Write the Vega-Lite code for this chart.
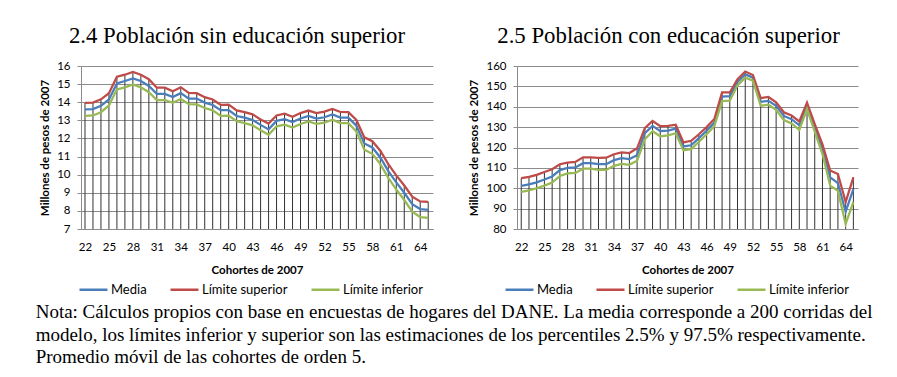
{
  "$schema": "https://vega.github.io/schema/vega-lite/v6.json",
  "padding": {"left": 35, "top": 25, "right": 5, "bottom": 5},
  "background": "white",
  "datasets": {
    "sin": [
      {"cohorte": 22, "Media": 13.61, "Límite superior": 13.96, "Límite inferior": 13.24},
      {"cohorte": 23, "Media": 13.62, "Límite superior": 13.98, "Límite inferior": 13.27},
      {"cohorte": 24, "Media": 13.80, "Límite superior": 14.16, "Límite inferior": 13.45},
      {"cohorte": 25, "Media": 14.15, "Límite superior": 14.50, "Límite inferior": 13.82},
      {"cohorte": 26, "Media": 15.04, "Límite superior": 15.41, "Límite inferior": 14.71},
      {"cohorte": 27, "Media": 15.17, "Límite superior": 15.52, "Límite inferior": 14.82},
      {"cohorte": 28, "Media": 15.32, "Límite superior": 15.67, "Límite inferior": 14.98},
      {"cohorte": 29, "Media": 15.17, "Límite superior": 15.52, "Límite inferior": 14.82},
      {"cohorte": 30, "Media": 14.90, "Límite superior": 15.27, "Límite inferior": 14.55},
      {"cohorte": 31, "Media": 14.46, "Límite superior": 14.80, "Límite inferior": 14.12},
      {"cohorte": 32, "Media": 14.46, "Límite superior": 14.80, "Límite inferior": 14.12},
      {"cohorte": 33, "Media": 14.29, "Límite superior": 14.60, "Límite inferior": 13.97},
      {"cohorte": 34, "Media": 14.50, "Límite superior": 14.83, "Límite inferior": 14.18},
      {"cohorte": 35, "Media": 14.20, "Límite superior": 14.52, "Límite inferior": 13.90},
      {"cohorte": 36, "Media": 14.20, "Límite superior": 14.50, "Límite inferior": 13.88},
      {"cohorte": 37, "Media": 13.98, "Límite superior": 14.28, "Límite inferior": 13.68},
      {"cohorte": 38, "Media": 13.85, "Límite superior": 14.15, "Límite inferior": 13.55},
      {"cohorte": 39, "Media": 13.56, "Límite superior": 13.86, "Límite inferior": 13.25},
      {"cohorte": 40, "Media": 13.57, "Límite superior": 13.87, "Límite inferior": 13.26},
      {"cohorte": 41, "Media": 13.24, "Límite superior": 13.55, "Límite inferior": 12.95},
      {"cohorte": 42, "Media": 13.15, "Límite superior": 13.45, "Límite inferior": 12.85},
      {"cohorte": 43, "Media": 13.02, "Límite superior": 13.33, "Límite inferior": 12.72},
      {"cohorte": 44, "Media": 12.75, "Límite superior": 13.05, "Límite inferior": 12.45},
      {"cohorte": 45, "Media": 12.50, "Límite superior": 12.82, "Límite inferior": 12.20},
      {"cohorte": 46, "Media": 12.97, "Límite superior": 13.27, "Límite inferior": 12.67},
      {"cohorte": 47, "Media": 13.06, "Límite superior": 13.37, "Límite inferior": 12.76},
      {"cohorte": 48, "Media": 12.90, "Límite superior": 13.20, "Límite inferior": 12.60},
      {"cohorte": 49, "Media": 13.10, "Límite superior": 13.40, "Límite inferior": 12.80},
      {"cohorte": 50, "Media": 13.24, "Límite superior": 13.54, "Límite inferior": 12.94},
      {"cohorte": 51, "Media": 13.10, "Límite superior": 13.40, "Límite inferior": 12.80},
      {"cohorte": 52, "Media": 13.17, "Límite superior": 13.48, "Límite inferior": 12.87},
      {"cohorte": 53, "Media": 13.33, "Límite superior": 13.63, "Límite inferior": 13.03},
      {"cohorte": 54, "Media": 13.15, "Límite superior": 13.46, "Límite inferior": 12.85},
      {"cohorte": 55, "Media": 13.15, "Límite superior": 13.45, "Límite inferior": 12.84},
      {"cohorte": 56, "Media": 12.70, "Límite superior": 13.02, "Límite inferior": 12.38},
      {"cohorte": 57, "Media": 11.72, "Límite superior": 12.06, "Límite inferior": 11.38},
      {"cohorte": 58, "Media": 11.50, "Límite superior": 11.85, "Límite inferior": 11.15},
      {"cohorte": 59, "Media": 10.95, "Límite superior": 11.32, "Límite inferior": 10.58},
      {"cohorte": 60, "Media": 10.20, "Límite superior": 10.58, "Límite inferior": 9.82},
      {"cohorte": 61, "Media": 9.57, "Límite superior": 9.96, "Límite inferior": 9.18},
      {"cohorte": 62, "Media": 9.00, "Límite superior": 9.40, "Límite inferior": 8.60},
      {"cohorte": 63, "Media": 8.37, "Límite superior": 8.78, "Límite inferior": 7.96},
      {"cohorte": 64, "Media": 8.10, "Límite superior": 8.52, "Límite inferior": 7.66},
      {"cohorte": 65, "Media": 8.06, "Límite superior": 8.50, "Límite inferior": 7.62}
    ],
    "con": [
      {"cohorte": 22, "Media": 101.2, "Límite superior": 105.0, "Límite inferior": 98.2},
      {"cohorte": 23, "Media": 101.9, "Límite superior": 105.6, "Límite inferior": 99.0},
      {"cohorte": 24, "Media": 102.9, "Límite superior": 106.6, "Límite inferior": 100.0},
      {"cohorte": 25, "Media": 104.3, "Límite superior": 108.0, "Límite inferior": 101.3},
      {"cohorte": 26, "Media": 105.8, "Límite superior": 109.3, "Límite inferior": 102.8},
      {"cohorte": 27, "Media": 108.9, "Límite superior": 111.8, "Límite inferior": 106.0},
      {"cohorte": 28, "Media": 110.0, "Límite superior": 112.6, "Límite inferior": 107.3},
      {"cohorte": 29, "Media": 110.2, "Límite superior": 112.9, "Límite inferior": 107.5},
      {"cohorte": 30, "Media": 112.3, "Límite superior": 115.2, "Límite inferior": 109.6},
      {"cohorte": 31, "Media": 112.3, "Límite superior": 115.2, "Límite inferior": 109.6},
      {"cohorte": 32, "Media": 111.8, "Límite superior": 114.9, "Límite inferior": 109.0},
      {"cohorte": 33, "Media": 111.8, "Límite superior": 115.0, "Límite inferior": 109.0},
      {"cohorte": 34, "Media": 113.8, "Límite superior": 116.7, "Límite inferior": 111.0},
      {"cohorte": 35, "Media": 114.8, "Límite superior": 117.6, "Límite inferior": 112.0},
      {"cohorte": 36, "Media": 114.3, "Límite superior": 117.3, "Límite inferior": 111.5},
      {"cohorte": 37, "Media": 116.2, "Límite superior": 119.6, "Límite inferior": 113.5},
      {"cohorte": 38, "Media": 127.0, "Límite superior": 129.5, "Límite inferior": 124.0},
      {"cohorte": 39, "Media": 130.6, "Límite superior": 133.0, "Límite inferior": 128.0},
      {"cohorte": 40, "Media": 128.0, "Límite superior": 130.5, "Límite inferior": 125.5},
      {"cohorte": 41, "Media": 128.3, "Límite superior": 130.6, "Límite inferior": 126.0},
      {"cohorte": 42, "Media": 129.3, "Límite superior": 131.2, "Límite inferior": 127.0},
      {"cohorte": 43, "Media": 120.5, "Límite superior": 122.5, "Límite inferior": 118.6},
      {"cohorte": 44, "Media": 121.1, "Límite superior": 123.3, "Límite inferior": 119.2},
      {"cohorte": 45, "Media": 124.6, "Límite superior": 126.5, "Límite inferior": 122.8},
      {"cohorte": 46, "Media": 128.2, "Límite superior": 130.0, "Límite inferior": 126.5},
      {"cohorte": 47, "Media": 132.2, "Límite superior": 134.0, "Límite inferior": 130.5},
      {"cohorte": 48, "Media": 145.0, "Límite superior": 147.0, "Límite inferior": 142.8},
      {"cohorte": 49, "Media": 145.2, "Límite superior": 147.0, "Límite inferior": 143.0},
      {"cohorte": 50, "Media": 152.2, "Límite superior": 153.5, "Límite inferior": 150.5},
      {"cohorte": 51, "Media": 155.9, "Límite superior": 157.3, "Límite inferior": 154.3},
      {"cohorte": 52, "Media": 154.3, "Límite superior": 155.6, "Límite inferior": 152.8},
      {"cohorte": 53, "Media": 142.4, "Límite superior": 144.2, "Límite inferior": 140.5},
      {"cohorte": 54, "Media": 142.9, "Límite superior": 144.8, "Límite inferior": 141.0},
      {"cohorte": 55, "Media": 140.4, "Límite superior": 142.2, "Límite inferior": 138.5},
      {"cohorte": 56, "Media": 135.5, "Límite superior": 137.3, "Límite inferior": 133.5},
      {"cohorte": 57, "Media": 133.9, "Límite superior": 135.7, "Límite inferior": 131.8},
      {"cohorte": 58, "Media": 130.9, "Límite superior": 132.8, "Límite inferior": 128.6},
      {"cohorte": 59, "Media": 140.4, "Límite superior": 142.0, "Límite inferior": 138.8},
      {"cohorte": 60, "Media": 129.8, "Límite superior": 131.5, "Límite inferior": 127.8},
      {"cohorte": 61, "Media": 119.2, "Límite superior": 121.5, "Límite inferior": 116.8},
      {"cohorte": 62, "Media": 105.3, "Límite superior": 108.7, "Límite inferior": 101.3},
      {"cohorte": 63, "Media": 102.5, "Límite superior": 107.0, "Límite inferior": 98.8},
      {"cohorte": 64, "Media": 88.5, "Límite superior": 93.2, "Límite inferior": 82.5},
      {"cohorte": 65, "Media": 99.6, "Límite superior": 105.3, "Límite inferior": 93.2}
    ]
  },
  "title": {
    "text": [
      "Nota: Cálculos propios con base en encuestas de hogares del DANE. La media corresponde a 200 corridas del",
      "modelo, los límites inferior y superior son las estimaciones de los percentiles 2.5% y 97.5% respectivamente.",
      "Promedio móvil de las cohortes de orden 5."
    ],
    "orient": "bottom",
    "anchor": "start",
    "font": "Liberation Serif",
    "fontSize": 19,
    "fontWeight": "normal",
    "color": "#000000",
    "lineHeight": 22.5,
    "offset": 6,
    "dx": -4
  },
  "hconcat": [
    {
      "width": 352,
      "height": 163,
      "title": {"text": "2.4 Población sin educación superior", "dx": -20, "offset": 12, "font": "Liberation Serif", "fontSize": 22.8, "fontWeight": "normal", "color": "#000000"},
      "data": {"name": "sin"},
      "encoding": {
        "x": {"field": "cohorte", "type": "quantitative", "scale": {"domain": [21.5, 65.6], "nice": false, "zero": false},
              "axis": {"values": [22, 25, 28, 31, 34, 37, 40, 43, 46, 49, 52, 55, 58, 61, 64], "title": "Cohortes de 2007"}}
      },
      "layer": [
        {
          "mark": {"type": "rule", "color": "#333333", "strokeWidth": 1},
          "encoding": {
            "y": {"field": "Límite superior", "type": "quantitative", "scale": {"domain": [7, 16], "nice": false, "zero": false},
                  "axis": {"values": [7, 8, 9, 10, 11, 12, 13, 14, 15, 16], "title": "Millones de pesos de 2007"}},
            "y2": {"datum": 7}
          }
        },
        {
          "transform": [{"fold": ["Media", "Límite superior", "Límite inferior"], "as": ["serie", "valor"]}],
          "mark": {"type": "line", "strokeWidth": 2.25},
          "encoding": {
            "y": {"field": "valor", "type": "quantitative", "scale": {"domain": [7, 16], "nice": false, "zero": false},
                  "axis": {"values": [7, 8, 9, 10, 11, 12, 13, 14, 15, 16], "title": "Millones de pesos de 2007"}},
            "color": {"field": "serie", "type": "nominal",
                      "scale": {"domain": ["Media", "Límite superior", "Límite inferior"], "range": ["#4A7EBB", "#BE4B48", "#98B954"]},
                      "legend": {"orient": "none", "legendX": -3, "legendY": 208, "direction": "horizontal", "title": null}}
          }
        }
      ]
    },
    {
      "width": 341,
      "height": 163,
      "title": {"text": "2.5 Población con educación superior", "dx": -19, "offset": 12, "font": "Liberation Serif", "fontSize": 22.8, "fontWeight": "normal", "color": "#000000"},
      "data": {"name": "con"},
      "encoding": {
        "x": {"field": "cohorte", "type": "quantitative", "scale": {"domain": [21.45, 65.6], "nice": false, "zero": false},
              "axis": {"values": [22, 25, 28, 31, 34, 37, 40, 43, 46, 49, 52, 55, 58, 61, 64], "title": "Cohortes de 2007"}}
      },
      "layer": [
        {
          "mark": {"type": "rule", "color": "#333333", "strokeWidth": 1},
          "encoding": {
            "y": {"field": "Límite superior", "type": "quantitative", "scale": {"domain": [80, 160], "nice": false, "zero": false},
                  "axis": {"values": [80, 90, 100, 110, 120, 130, 140, 150, 160], "title": "Millones de pesos de 2007"}},
            "y2": {"datum": 80}
          }
        },
        {
          "transform": [{"fold": ["Media", "Límite superior", "Límite inferior"], "as": ["serie", "valor"]}],
          "mark": {"type": "line", "strokeWidth": 2.25},
          "encoding": {
            "y": {"field": "valor", "type": "quantitative", "scale": {"domain": [80, 160], "nice": false, "zero": false},
                  "axis": {"values": [80, 90, 100, 110, 120, 130, 140, 150, 160], "title": "Millones de pesos de 2007"}},
            "color": {"field": "serie", "type": "nominal",
                      "scale": {"domain": ["Media", "Límite superior", "Límite inferior"], "range": ["#4A7EBB", "#BE4B48", "#98B954"]},
                      "legend": {"orient": "none", "legendX": -13, "legendY": 208, "direction": "horizontal", "title": null}}
          }
        }
      ]
    }
  ],
  "spacing": 35,
  "resolve": {"scale": {"color": "independent", "x": "independent", "y": "independent"}, "legend": {"color": "independent"}},
  "config": {
    "view": {"stroke": null},
    "font": "Lato",
    "axis": {
      "labelFont": "Lato", "labelFontSize": 11.5, "labelColor": "#000000",
      "titleFont": "Lato", "titleFontSize": 11.5, "titleFontWeight": "bold", "titleColor": "#000000",
      "domainColor": "#8c8c8c", "tickColor": "#8c8c8c", "gridColor": "#8c8c8c"
    },
    "axisX": {"grid": false, "ticks": false, "labelPadding": 12, "titlePadding": 12, "labelFlush": false},
    "axisY": {"grid": true, "ticks": true, "tickSize": 4, "labelPadding": 7, "titlePadding": 6},
    "legend": {
      "symbolType": "stroke", "symbolSize": 784, "symbolStrokeWidth": 2.5,
      "labelFont": "Lato", "labelFontSize": 13, "labelColor": "#000000",
      "columnPadding": 18, "labelOffset": 2
    }
  }
}
